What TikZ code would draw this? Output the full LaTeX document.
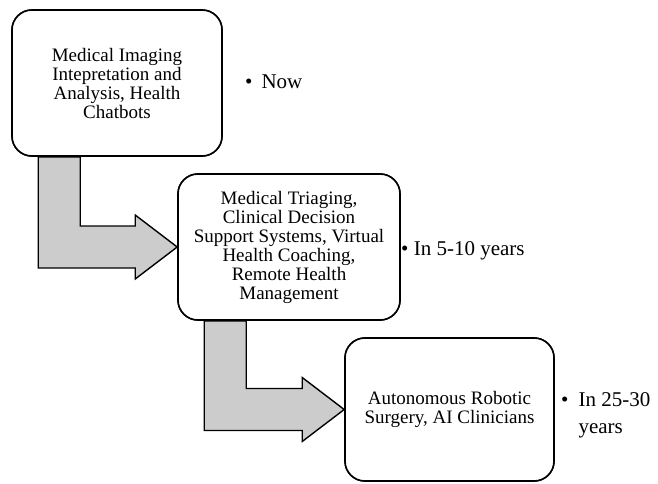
\documentclass[tikz,border=0pt]{standalone}
\usepackage{fontspec}
\setmainfont{Liberation Serif}
\usetikzlibrary{calc}
\tikzset{
  stagebox/.style={draw, line width=1.6pt, rounded corners=20pt, fill=white,
    align=center, font=\fontsize{19}{19}\selectfont},
  blockarrow/.style={draw, line width=1.4pt, fill=gray!40, line join=miter},
  whenlabel/.style={anchor=base west, inner sep=0pt, font=\fontsize{21}{21}\selectfont}
}
\begin{document}
\begin{tikzpicture}[x=1pt,y=-1pt]
\useasboundingbox (0,0) rectangle (658,483);
% stages
  \coordinate (c1) at (117,83);
  \coordinate (c2) at (289,247);
  \coordinate (c3) at (449.5,409.5);
  \node[stagebox, minimum width=210pt, minimum height=146pt] (box1) at (c1) {};
  \node[stagebox, minimum width=222pt, minimum height=146pt] (box2) at (c2) {};
  \node[stagebox, minimum width=209pt, minimum height=143pt] (box3) at (c3) {};
% block arrows between stages
  \foreach \from/\to in {box1/box2, box2/box3}{
    \draw[blockarrow] ($(\from.south west)+(27,0)$) coordinate (s)
      -- ($(s |- \to.west)+(0,21)$)
      -- ($(\to.west)+(-42,21)$)
      -- ($(\to.west)+(-42,32)$)
      -- (\to.west)
      -- ($(\to.west)+(-42,-32)$)
      -- ($(\to.west)+(-42,-21)$)
      -- ($(s |- \to.west)+(42,-21)$)
      -- ($(s)+(42,0)$) -- cycle;
  }
% redraw boxes on top of the arrows
  \node[stagebox, minimum width=210pt, minimum height=146pt] at (c1)
    {Medical Imaging\\Intepretation and\\Analysis, Health\\Chatbots};
  \node[stagebox, minimum width=222pt, minimum height=146pt] at (c2)
    {Medical Triaging,\\Clinical Decision\\Support Systems, Virtual\\Health Coaching,\\Remote Health\\Management};
  \node[stagebox, minimum width=209pt, minimum height=143pt] at (c3)
    {Autonomous Robotic\\Surgery, AI Clinicians};
% time labels
  \node[whenlabel] (lnow) at (245,88) {\textbullet\hspace{9pt}Now};
  \node[whenlabel] (lmid) at (401,255) {\textbullet\ In 5-10 years};
  \node[whenlabel] (llate) at (561,406)
    {\textbullet\hspace{10pt}\begin{tabular}[t]{@{}l@{}}In 25-30\\[6pt]years\end{tabular}};
\end{tikzpicture}
\end{document}
